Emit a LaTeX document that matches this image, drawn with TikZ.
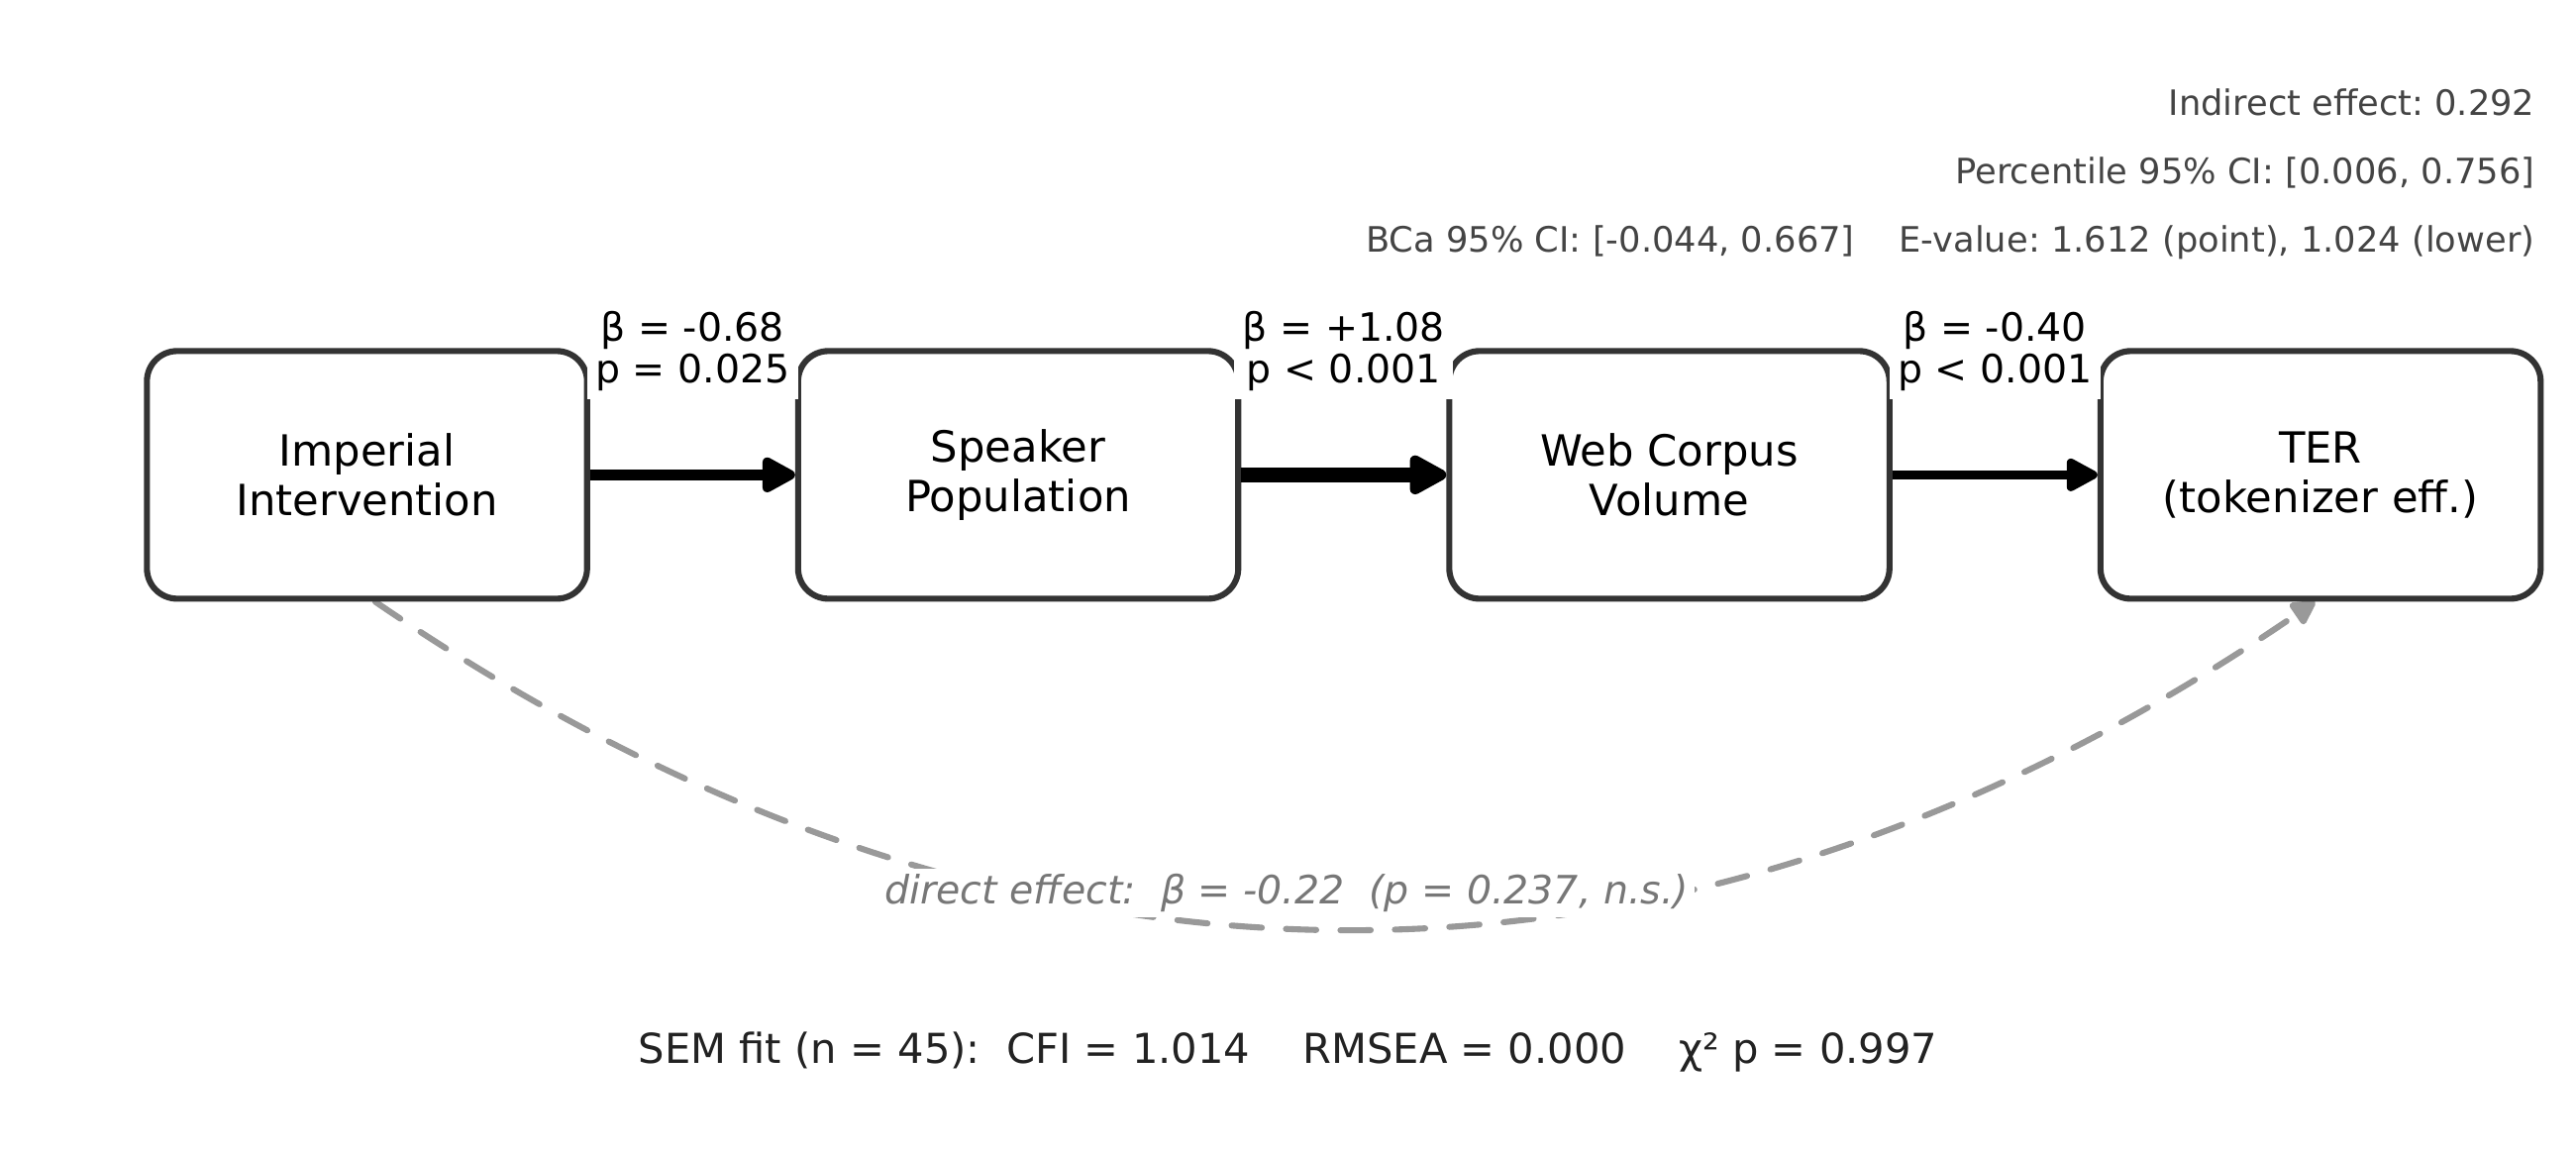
\documentclass[tikz,border=0pt]{standalone}
\usepackage{fontspec}
\setmainfont{DejaVu Sans}
\usetikzlibrary{arrows.meta, positioning, backgrounds}
\frenchspacing

\definecolor{boxline}{HTML}{333333}
\definecolor{dirline}{HTML}{999999}
\definecolor{dirtext}{HTML}{777777}
\definecolor{stats}{HTML}{444444}
\definecolor{fitstats}{HTML}{222222}

\begin{document}
\begin{tikzpicture}[
    node distance=10pt and 74.5pt,
    var/.style={
      draw=boxline, line width=2.2pt, fill=white,
      rounded corners=11pt,
      minimum width=160pt, minimum height=90pt,
      align=center, font=\fontsize{15.6}{18}\selectfont
    },
    pth/.style={-{Triangle[length=10pt 1, width=10pt 1, round]}, black},
    coef/.style={fill=white, inner sep=3pt, align=center,
      font=\fontsize{14.2}{15.1}\selectfont},
    direct/.style={draw=dirline, line width=2.2pt, line cap=round,
      dash pattern=on 11pt off 8.8pt,
      -{Triangle[length=10pt, width=10pt, round]}},
    effect/.style={fill=white, text=dirtext, inner sep=2pt,
      font=\fontsize{14.2}{17}\selectfont\itshape},
    note/.style={text=stats, anchor=east, inner sep=0pt,
      font=\fontsize{12.7}{15}\selectfont},
    semfit/.style={text=fitstats, font=\fontsize{15}{18}\selectfont}
  ]
  \useasboundingbox (0,0) rectangle (936.36pt,420.48pt);

  \node[var]              (imp) at (133.4pt,247.9pt) {Imperial\\Intervention};
  \node[var, right=of imp] (spk) {Speaker\\Population};
  \node[var, right=of spk] (web) {Web Corpus\\Volume};
  \node[var, right=of web] (ter) {TER\\(tokenizer eff.)};

  \draw[pth, line width=4pt] (imp) -- node[coef, midway, yshift=45.1pt] {β = -0.68\\p = 0.025} (spk);
  \draw[pth, line width=5.65pt] (spk) -- node[coef, midway, yshift=45.1pt] {β = +1.08\\p < 0.001} (web);
  \draw[pth, line width=3pt] (web) -- node[coef, midway, yshift=45.1pt] {β = -0.40\\p < 0.001} (ter);

  \begin{scope}[on background layer]
    \draw[direct] ([xshift=3pt]imp.south) to[bend right=34.4, looseness=1.02]
      node[effect, xshift=-21.2pt, yshift=13pt] {direct effect:\ \ β = -0.22\ \ (p = 0.237, n.s.)} ([xshift=-2pt]ter.south);
  \end{scope}

  \node[note] (indirect) at (921.6pt,383.4pt) {Indirect effect: 0.292};
  \node[note] (pci)      at (921.6pt,357.6pt) {Percentile 95\% CI: [0.006, 0.756]};
  \node[note] (bca)      at (921.6pt,332.5pt) {BCa 95\% CI: [-0.044, 0.667]\ \ \ \ E-value: 1.612 (point), 1.024 (lower)};

  \node[semfit] (sem) at (468.2pt,38.2pt) {SEM fit (n = 45):\ \ CFI = 1.014\ \ \ \ RMSEA = 0.000\ \ \ \ χ² p = 0.997};
\end{tikzpicture}
\end{document}
